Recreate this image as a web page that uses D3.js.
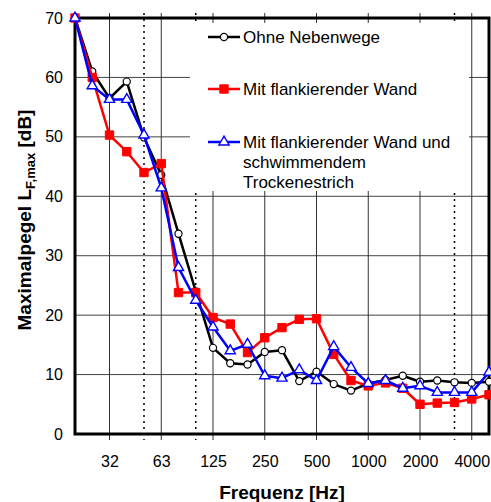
<!DOCTYPE html>
<html>
<head>
<meta charset="utf-8">
<script src="https://cdn.jsdelivr.net/npm/d3@7"></script>
<style>
  body { margin: 0; background: #fff; }
  svg { display: block; font-family: Arial, "Liberation Sans", sans-serif; }
</style>
</head>
<body>
<svg id="chart" width="491" height="502"></svg>
<script>
// third-octave bands (Hz)
const bands = ["20", "25", "31.5", "40", "50", "63", "80", "100", "125", "160", "200", "250",
  "315", "400", "500", "630", "800", "1000", "1250", "1600", "2000", "2500", "3150", "4000", "5000"];

const tickBands = ["31.5", "63", "125", "250", "500", "1000", "2000", "4000"];
const tickLabels = ["32", "63", "125", "250", "500", "1000", "2000", "4000"];
const dottedBands = ["50", "100", "3150"];
const yTicks = [0, 10, 20, 30, 40, 50, 60, 70];

// Maximalpegel L_F,max [dB]
const ohneNebenwege = [70, 61.0, 56.5, 59.3, 49.9, 43.6, 33.7, 24.0, 14.5, 11.9, 11.7, 13.8,
  14.1, 8.9, 10.5, 8.4, 7.3, 8.5, 9.1, 9.8, 8.8, 9.0, 8.7, 8.6, 8.8];
const flankWand = [70, 60.0, 50.3, 47.5, 44.0, 45.5, 23.8, 23.8, 19.6, 18.5, 13.7, 16.2,
  17.9, 19.3, 19.4, 13.4, 9.0, 8.1, 8.6, 7.7, 5.0, 5.2, 5.3, 5.9, 6.6];
const flankWandEstrich = [70, 58.6, 56.3, 56.3, 50.3, 41.4, 28.0, 22.5, 18.0, 14.0, 15.1, 9.8,
  9.4, 10.8, 9.0, 14.7, 11.2, 8.5, 9.0, 7.7, 8.1, 7.0, 7.0, 7.0, 10.4];

const seriesNames = ["Ohne Nebenwege", "Mit flankierender Wand",
  "Mit flankierender Wand und|schwimmendem|Trockenestrich"];

const margin = { left: 75, right: 489, top: 18, bottom: 434 };

const svg = d3.select("#chart");

const x = d3.scalePoint().domain(bands).range([margin.left, margin.right]);
const y = d3.scaleLinear().domain([0, 70]).range([margin.bottom, margin.top]);

// grid
const grid = svg.append("g");
grid.selectAll("line.h")
  .data(yTicks.filter((d) => d > 0 && d < 70))
  .join("line")
  .attr("x1", margin.left).attr("x2", margin.right)
  .attr("y1", (d) => y(d)).attr("y2", (d) => y(d))
  .attr("stroke", "#444").attr("stroke-width", 1);

grid.selectAll("line.v")
  .data(tickBands)
  .join("line")
  .attr("x1", (d) => x(d)).attr("x2", (d) => x(d))
  .attr("y1", margin.top - 5).attr("y2", margin.bottom + 6)
  .attr("stroke", "#333").attr("stroke-width", 1);

grid.selectAll("line.d")
  .data(dottedBands)
  .join("line")
  .attr("x1", (d) => x(d)).attr("x2", (d) => x(d))
  .attr("y1", margin.top - 5).attr("y2", margin.bottom + 6)
  .attr("stroke", "#000").attr("stroke-width", 1.5)
  .attr("stroke-dasharray", "2,4");

// legend background hides the grid
svg.append("rect")
  .attr("x", 190).attr("y", 23)
  .attr("width", 279).attr("height", 168)
  .attr("fill", "#fff");

// frame
svg.append("rect")
  .attr("x", margin.left).attr("y", margin.top)
  .attr("width", margin.right - margin.left)
  .attr("height", margin.bottom - margin.top)
  .attr("fill", "none").attr("stroke", "#000").attr("stroke-width", 3);

// axes labels
const xAxis = svg.append("g")
  .attr("transform", `translate(0,${margin.bottom})`)
  .call(d3.axisBottom(x).tickValues(tickBands).tickSize(0).tickPadding(22)
    .tickFormat((d) => tickLabels[tickBands.indexOf(d)]));
xAxis.select(".domain").remove();
xAxis.selectAll("text").attr("font-size", 16).attr("font-family", "Arial, 'Liberation Sans', sans-serif")
  .attr("fill", "#000");

const yAxis = svg.append("g")
  .attr("transform", `translate(${margin.left},0)`)
  .call(d3.axisLeft(y).tickValues(yTicks).tickSize(0).tickPadding(12));
yAxis.select(".domain").remove();
yAxis.selectAll("text").attr("font-size", 16).attr("font-family", "Arial, 'Liberation Sans', sans-serif")
  .attr("fill", "#000");

svg.append("text")
  .attr("x", 282).attr("y", 499)
  .attr("text-anchor", "middle")
  .attr("font-size", 19).attr("font-weight", "bold")
  .text("Frequenz [Hz]");

const yTitle = svg.append("text")
  .attr("transform", "translate(31,220) rotate(-90)")
  .attr("text-anchor", "middle")
  .attr("font-size", 19).attr("font-weight", "bold");
yTitle.append("tspan").text("Maximalpegel L");
yTitle.append("tspan").attr("font-size", 13).attr("dy", 4).text("F,max");
yTitle.append("tspan").attr("dy", -4).text(" [dB]");

// series
const line = d3.line().x((d, i) => x(bands[i])).y((d) => y(d));

const series = [
  { values: ohneNebenwege, color: "#000", symbol: d3.symbolCircle, size: 40, fill: "#fff", sw: 1.2 },
  { values: flankWand, color: "#ff0000", symbol: d3.symbolSquare, size: 70, fill: "#ff0000", sw: 1 },
  { values: flankWandEstrich, color: "#0000ff", symbol: d3.symbolTriangle, size: 45, fill: "#fff", sw: 1.4 }
];

series.forEach((s) => {
  const g = svg.append("g");
  g.append("path")
    .datum(s.values)
    .attr("d", line)
    .attr("fill", "none")
    .attr("stroke", s.color)
    .attr("stroke-width", 2.5)
    .attr("stroke-linejoin", "round");
  g.selectAll("path.m")
    .data(s.values)
    .join("path")
    .attr("transform", (d, i) => `translate(${x(bands[i])},${y(d)})`)
    .attr("d", d3.symbol().type(s.symbol).size(s.size))
    .attr("fill", s.fill)
    .attr("stroke", s.color)
    .attr("stroke-width", s.sw);
});

// legend
const legendY = [37, 89, 142];
series.forEach((s, i) => {
  const g = svg.append("g").attr("transform", `translate(208,${legendY[i]})`);
  g.append("line")
    .attr("x1", 0).attr("x2", 32)
    .attr("stroke", s.color).attr("stroke-width", 2.5);
  g.append("path")
    .attr("transform", "translate(16,0)")
    .attr("d", d3.symbol().type(s.symbol).size(s.size))
    .attr("fill", s.fill)
    .attr("stroke", s.color)
    .attr("stroke-width", s.sw);
  const t = g.append("text")
    .attr("x", 35).attr("y", 6)
    .attr("font-size", 17);
  seriesNames[i].split("|").forEach((part, k) => {
    t.append("tspan").attr("x", 35).attr("dy", k === 0 ? 0 : 20).text(part);
  });
});
</script>
</body>
</html>
